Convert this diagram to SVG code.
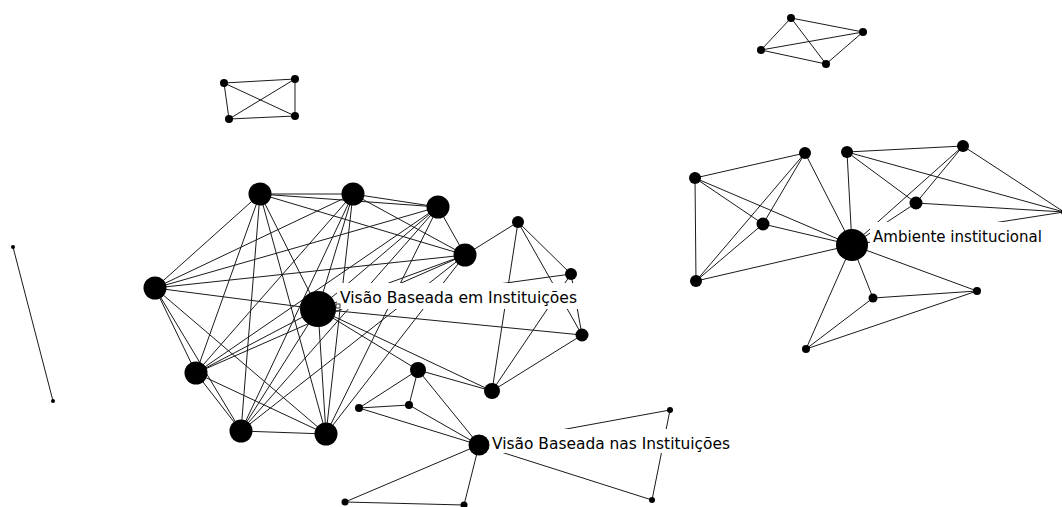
<svg xmlns="http://www.w3.org/2000/svg" width="1062" height="507" viewBox="0 0 1062 507">
<style>
.e{stroke:#1a1a1a;stroke-width:1;fill:none}
.n{fill:#000}
.lb{fill:#fff;stroke:none}
.t{font-family:"DejaVu Sans","Verdana",sans-serif;font-size:15.5px;fill:#000}
</style>
<rect width="1062" height="507" fill="#fff"/>
<g id="connectors" class="e">
<!-- main cluster K9 -->
<line x1="260" y1="194" x2="353" y2="194"/>
<line x1="260" y1="194" x2="438" y2="207"/>
<line x1="260" y1="194" x2="465" y2="255"/>
<line x1="260" y1="194" x2="155" y2="288"/>
<line x1="260" y1="194" x2="318" y2="309"/>
<line x1="260" y1="194" x2="196" y2="373"/>
<line x1="260" y1="194" x2="241" y2="431"/>
<line x1="260" y1="194" x2="326" y2="434"/>
<line x1="353" y1="194" x2="438" y2="207"/>
<line x1="353" y1="194" x2="465" y2="255"/>
<line x1="353" y1="194" x2="155" y2="288"/>
<line x1="353" y1="194" x2="318" y2="309"/>
<line x1="353" y1="194" x2="196" y2="373"/>
<line x1="353" y1="194" x2="241" y2="431"/>
<line x1="353" y1="194" x2="326" y2="434"/>
<line x1="438" y1="207" x2="465" y2="255"/>
<line x1="438" y1="207" x2="155" y2="288"/>
<line x1="438" y1="207" x2="318" y2="309"/>
<line x1="438" y1="207" x2="196" y2="373"/>
<line x1="438" y1="207" x2="241" y2="431"/>
<line x1="438" y1="207" x2="326" y2="434"/>
<line x1="465" y1="255" x2="155" y2="288"/>
<line x1="465" y1="255" x2="318" y2="309"/>
<line x1="465" y1="255" x2="196" y2="373"/>
<line x1="465" y1="255" x2="241" y2="431"/>
<line x1="465" y1="255" x2="326" y2="434"/>
<line x1="155" y1="288" x2="318" y2="309"/>
<line x1="155" y1="288" x2="196" y2="373"/>
<line x1="155" y1="288" x2="241" y2="431"/>
<line x1="155" y1="288" x2="326" y2="434"/>
<line x1="318" y1="309" x2="196" y2="373"/>
<line x1="318" y1="309" x2="241" y2="431"/>
<line x1="318" y1="309" x2="326" y2="434"/>
<line x1="196" y1="373" x2="241" y2="431"/>
<line x1="196" y1="373" x2="326" y2="434"/>
<line x1="241" y1="431" x2="326" y2="434"/>
<!-- small nodes around main cluster -->
<line x1="465" y1="255" x2="518" y2="222"/>
<line x1="518" y1="222" x2="571" y2="274"/>
<line x1="518" y1="222" x2="582" y2="335"/>
<line x1="518" y1="222" x2="492" y2="391"/>
<line x1="571" y1="274" x2="582" y2="335"/>
<line x1="571" y1="274" x2="492" y2="391"/>
<line x1="571" y1="274" x2="318" y2="309"/>
<line x1="582" y1="335" x2="318" y2="309"/>
<line x1="582" y1="335" x2="492" y2="391"/>
<line x1="318" y1="309" x2="492" y2="391"/>
<line x1="318" y1="309" x2="418" y2="370"/>
<line x1="418" y1="370" x2="492" y2="391"/>
<line x1="418" y1="370" x2="359" y2="408"/>
<line x1="418" y1="370" x2="409" y2="405"/>
<line x1="418" y1="370" x2="479" y2="445"/>
<line x1="359" y1="408" x2="409" y2="405"/>
<line x1="359" y1="408" x2="479" y2="445"/>
<line x1="409" y1="405" x2="479" y2="445"/>
<line x1="479" y1="445" x2="345" y2="502"/>
<line x1="479" y1="445" x2="464" y2="505"/>
<line x1="345" y1="502" x2="464" y2="505"/>
<line x1="479" y1="445" x2="652" y2="500"/>
<line x1="479" y1="445" x2="670" y2="410"/>
<line x1="670" y1="410" x2="652" y2="500"/>
<!-- right cluster -->
<line x1="695" y1="178" x2="805" y2="153"/>
<line x1="695" y1="178" x2="696" y2="281"/>
<line x1="695" y1="178" x2="763" y2="224"/>
<line x1="695" y1="178" x2="852" y2="245"/>
<line x1="805" y1="153" x2="763" y2="224"/>
<line x1="805" y1="153" x2="696" y2="281"/>
<line x1="763" y1="224" x2="696" y2="281"/>
<line x1="805" y1="153" x2="852" y2="245"/>
<line x1="847" y1="152" x2="852" y2="245"/>
<line x1="847" y1="152" x2="963" y2="146"/>
<line x1="847" y1="152" x2="916" y2="203"/>
<line x1="847" y1="152" x2="1064" y2="212"/>
<line x1="963" y1="146" x2="1064" y2="212"/>
<line x1="963" y1="146" x2="916" y2="203"/>
<line x1="963" y1="146" x2="852" y2="245"/>
<line x1="916" y1="203" x2="852" y2="245"/>
<line x1="916" y1="203" x2="1064" y2="212"/>
<line x1="852" y1="245" x2="1064" y2="212"/>
<line x1="763" y1="224" x2="852" y2="245"/>
<line x1="696" y1="281" x2="852" y2="245"/>
<line x1="852" y1="245" x2="873" y2="298"/>
<line x1="852" y1="245" x2="977" y2="291"/>
<line x1="852" y1="245" x2="806" y2="349"/>
<line x1="873" y1="298" x2="977" y2="291"/>
<line x1="873" y1="298" x2="806" y2="349"/>
<line x1="977" y1="291" x2="806" y2="349"/>
<!-- top-left K4 -->
<line x1="224" y1="83" x2="295" y2="79"/>
<line x1="224" y1="83" x2="229" y2="119"/>
<line x1="224" y1="83" x2="295" y2="116"/>
<line x1="295" y1="79" x2="229" y2="119"/>
<line x1="295" y1="79" x2="295" y2="116"/>
<line x1="229" y1="119" x2="295" y2="116"/>
<!-- top-right K4 -->
<line x1="791" y1="18" x2="863" y2="32"/>
<line x1="791" y1="18" x2="761" y2="50"/>
<line x1="791" y1="18" x2="826" y2="64"/>
<line x1="761" y1="50" x2="863" y2="32"/>
<line x1="761" y1="50" x2="826" y2="64"/>
<line x1="826" y1="64" x2="863" y2="32"/>
<!-- isolated pair -->
<line x1="13" y1="247" x2="53" y2="401"/>
</g>
<g id="label-backgrounds">
<rect class="lb" x="337" y="283" width="243" height="26"/>
<rect class="lb" x="489" y="429" width="244" height="24"/>
<rect class="lb" x="870" y="222" width="176" height="26"/>
</g>
<g id="nodes">
<g id="n-A"><circle class="n" cx="260" cy="194" r="11.5"/></g>
<g id="n-B"><circle class="n" cx="353" cy="194" r="11.5"/></g>
<g id="n-C"><circle class="n" cx="438" cy="207" r="11.5"/></g>
<g id="n-D"><circle class="n" cx="465" cy="255" r="11.5"/></g>
<g id="n-E"><circle class="n" cx="155" cy="288" r="11.5"/></g>
<g id="n-G"><circle class="n" cx="196" cy="373" r="11.5"/></g>
<g id="n-H"><circle class="n" cx="241" cy="431" r="11.5"/></g>
<g id="n-I"><circle class="n" cx="326" cy="434" r="11.5"/></g>
<g id="n-visao-em"><circle class="n" cx="318" cy="309" r="18"/><rect x="336" y="304" width="4" height="4" fill="#fff" stroke="#000" stroke-width="0.8"/><text class="t" x="340" y="303" textLength="237" lengthAdjust="spacingAndGlyphs">Visão Baseada em Instituições</text></g>
<g id="n-J"><circle class="n" cx="518" cy="222" r="6"/></g>
<g id="n-K"><circle class="n" cx="571" cy="274" r="6"/></g>
<g id="n-L"><circle class="n" cx="582" cy="335" r="6.5"/></g>
<g id="n-M"><circle class="n" cx="492" cy="391" r="8"/></g>
<g id="n-N"><circle class="n" cx="418" cy="370" r="8"/></g>
<g id="n-O"><circle class="n" cx="359" cy="408" r="4"/></g>
<g id="n-P"><circle class="n" cx="409" cy="405" r="4"/></g>
<g id="n-visao-nas"><circle class="n" cx="479" cy="445" r="10.5"/><text class="t" x="492" y="449" textLength="238" lengthAdjust="spacingAndGlyphs">Visão Baseada nas Instituições</text></g>
<g id="n-R"><circle class="n" cx="670" cy="410" r="3"/></g>
<g id="n-S"><circle class="n" cx="652" cy="500" r="3"/></g>
<g id="n-T"><circle class="n" cx="345" cy="502" r="3.5"/></g>
<g id="n-U"><circle class="n" cx="464" cy="505" r="3.5"/></g>
<g id="n-R1"><circle class="n" cx="695" cy="178" r="6"/></g>
<g id="n-R2"><circle class="n" cx="805" cy="153" r="6"/></g>
<g id="n-R3"><circle class="n" cx="847" cy="152" r="6"/></g>
<g id="n-R4"><circle class="n" cx="963" cy="146" r="6"/></g>
<g id="n-R5"><circle class="n" cx="916" cy="203" r="6.5"/></g>
<g id="n-R6"><circle class="n" cx="763" cy="224" r="6.5"/></g>
<g id="n-ambiente"><circle class="n" cx="852" cy="245" r="16"/><text class="t" x="873" y="242" textLength="169" lengthAdjust="spacingAndGlyphs">Ambiente institucional</text></g>
<g id="n-R7"><circle class="n" cx="696" cy="281" r="6"/></g>
<g id="n-R8"><circle class="n" cx="873" cy="298" r="4.5"/></g>
<g id="n-R9"><circle class="n" cx="977" cy="291" r="4"/></g>
<g id="n-R10"><circle class="n" cx="806" cy="349" r="4"/></g>
<g id="n-R11"><circle class="n" cx="1064" cy="212" r="3"/></g>
<g id="n-TL1"><circle class="n" cx="224" cy="83" r="4"/></g>
<g id="n-TL2"><circle class="n" cx="295" cy="79" r="4"/></g>
<g id="n-TL3"><circle class="n" cx="229" cy="119" r="4"/></g>
<g id="n-TL4"><circle class="n" cx="295" cy="116" r="4"/></g>
<g id="n-TR1"><circle class="n" cx="791" cy="18" r="4"/></g>
<g id="n-TR2"><circle class="n" cx="863" cy="32" r="4"/></g>
<g id="n-TR3"><circle class="n" cx="761" cy="50" r="4"/></g>
<g id="n-TR4"><circle class="n" cx="826" cy="64" r="4"/></g>
<g id="n-X1"><circle class="n" cx="13" cy="247" r="2"/></g>
<g id="n-X2"><circle class="n" cx="53" cy="401" r="2"/></g>
</g>
</svg>
